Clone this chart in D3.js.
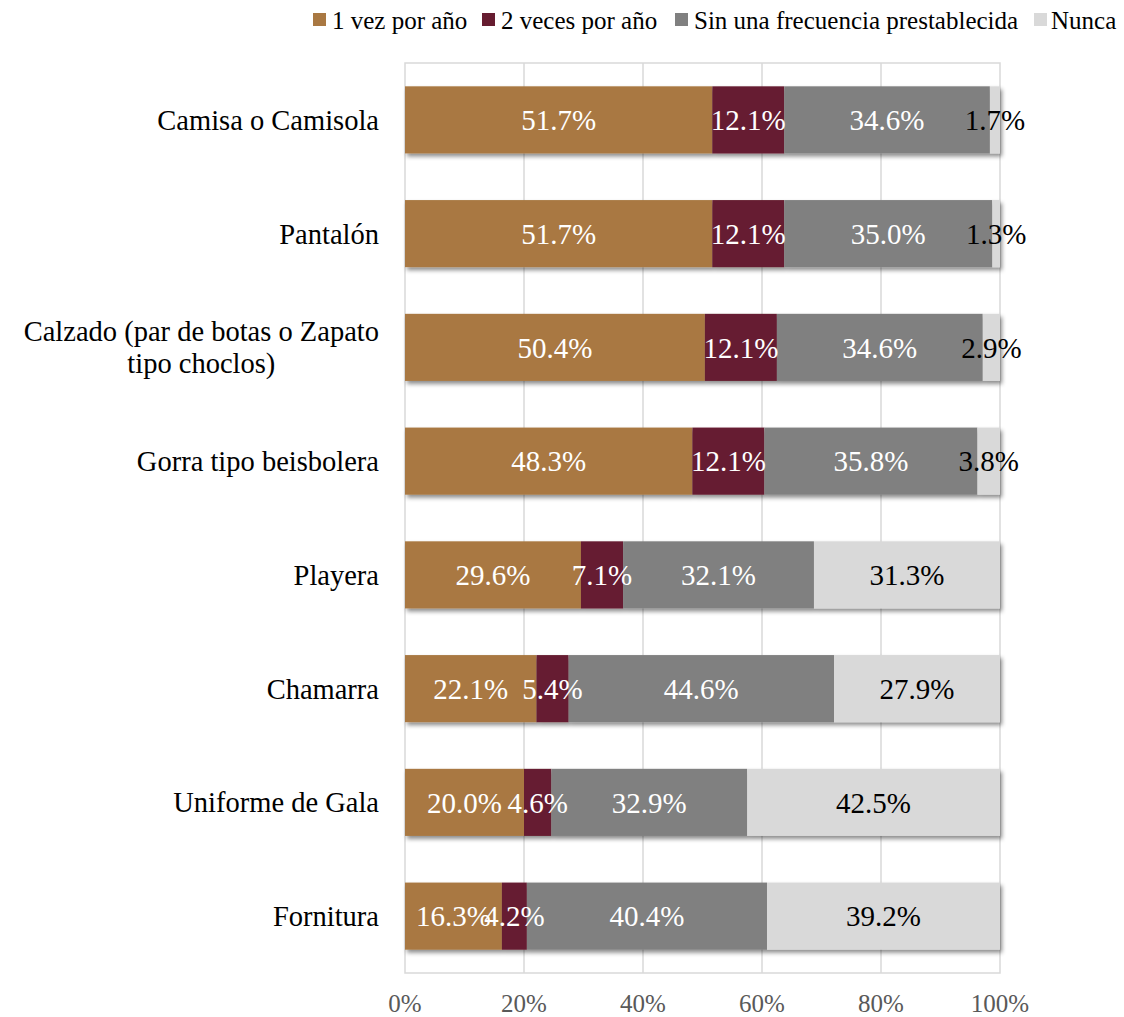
<!DOCTYPE html>
<html><head><meta charset="utf-8">
<script src="https://cdn.jsdelivr.net/npm/d3@7"></script>
<style>body{margin:0;background:#fff}svg{display:block}</style>
</head><body>
<svg id="c" width="1124" height="1017"></svg>
<script>
const categories = [["Camisa o Camisola"],["Pantalón"],["Calzado (par de botas o Zapato","tipo choclos)"],["Gorra tipo beisbolera"],["Playera"],["Chamarra"],["Uniforme de Gala"],["Fornitura"]];
const seriesNames = ["1 vez por año","2 veces por año","Sin una frecuencia prestablecida","Nunca"];
const vez1 =   [51.7,51.7,50.4,48.3,29.6,22.1,20.0,16.3];
const veces2 = [12.1,12.1,12.1,12.1,7.1,5.4,4.6,4.2];
const sinFrec =[34.6,35.0,34.6,35.8,32.1,44.6,32.9,40.4];
const nunca =  [1.7,1.3,2.9,3.8,31.3,27.9,42.5,39.2];
const tickLabels = ["0%","20%","40%","60%","80%","100%"];
const colors = ["#A97842","#661C30","#808080","#D9D9D9"];
const labelColors = ["#fff","#fff","#fff","#000"];

const svg = d3.select("#c");
const font = "'Liberation Serif', serif";
const L=405, R=1000, T=63, B=973;
const x = d3.scaleLinear().domain([0,1]).range([L,R]);
const y = d3.scaleBand().domain(d3.range(categories.length)).range([T,B]).paddingInner(0.41).paddingOuter(0.205);

const defs = svg.append("defs");
const f = defs.append("filter").attr("id","sh").attr("x","-5%").attr("y","-20%").attr("width","110%").attr("height","150%");
f.append("feDropShadow").attr("dx",2).attr("dy",3).attr("stdDeviation",2.2).attr("flood-color","#000").attr("flood-opacity",0.45);

// grid
svg.append("g").selectAll("line").data([0.2,0.4,0.6,0.8]).join("line")
  .attr("x1",d=>x(d)).attr("x2",d=>x(d)).attr("y1",T).attr("y2",B)
  .attr("stroke","#D9D9D9").attr("stroke-width",1.5);
svg.append("rect").attr("x",L).attr("y",T).attr("width",R-L).attr("height",B-T)
  .attr("fill","none").attr("stroke","#D9D9D9").attr("stroke-width",1.5);

const data = categories.map((c,i)=>({i, v:[vez1[i],veces2[i],sinFrec[i],nunca[i]]}));
const stack = d3.stack().keys([0,1,2,3]).value((d,k)=>d.v[k]).offset(d3.stackOffsetExpand);
const stacked = stack(data);

const gb = svg.append("g");
data.forEach((d,i)=>{
  const g = gb.append("g").attr("filter","url(#sh)");
  stacked.forEach((s,k)=>{
    g.append("rect").attr("x",x(s[i][0])).attr("width",x(s[i][1])-x(s[i][0]))
      .attr("y",y(i)).attr("height",y.bandwidth()).attr("fill",colors[k]);
  });
});
// data labels
stacked.forEach((s,k)=>{
  svg.append("g").selectAll("text").data(s).join("text")
    .attr("x",(d)=>(x(d[0])+x(d[1]))/2).attr("y",(d,i)=>y(i)+y.bandwidth()/2)
    .attr("dy","0.35em").attr("text-anchor","middle")
    .attr("font-family",font).attr("font-size",29).attr("fill",labelColors[k])
    .text((d,i)=>data[i].v[k].toFixed(1)+"%");
});

// category labels
categories.forEach((lines,i)=>{
  const cy = y(i)+y.bandwidth()/2;
  const t = svg.append("text").attr("font-family",font).attr("font-size",28.5).attr("fill","#000");
  const lh = 32;
  lines.forEach((ln,j)=>{
    t.append("tspan").attr("y", cy + (j-(lines.length-1)/2)*lh).attr("dy","0.35em").text(ln);
  });
  let maxW = 0;
  t.selectAll("tspan").each(function(){maxW=Math.max(maxW,this.getComputedTextLength());});
  if(lines.length>1){
    t.attr("text-anchor","middle").selectAll("tspan").attr("x",379-maxW/2);
  } else {
    t.attr("text-anchor","end").selectAll("tspan").attr("x",379);
  }
});

// x axis labels
svg.append("g").selectAll("text").data(tickLabels).join("text")
  .attr("x",(d,i)=>x(i/5)).attr("y",1003).attr("dy","0.35em").attr("text-anchor","middle")
  .attr("font-family",font).attr("font-size",25).attr("fill","#595959").text(d=>d);

// legend
const legX = [313,482,675,1034];
const lg = svg.append("g");
seriesNames.forEach((n,k)=>{
  lg.append("rect").attr("x",legX[k]).attr("y",13).attr("width",13).attr("height",13).attr("fill",colors[k]);
  lg.append("text").attr("x",legX[k]+(k===3?17:19)).attr("y",20).attr("dy","0.35em")
    .attr("font-family",font).attr("font-size",25).attr("fill","#000").text(n);
});
</script>
</body></html>
